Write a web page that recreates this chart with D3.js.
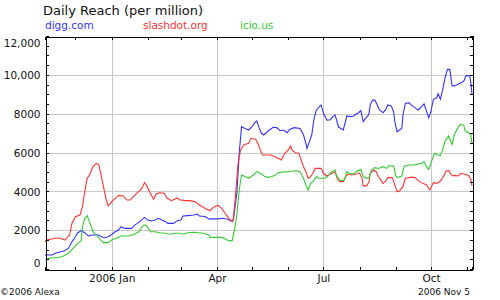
<!DOCTYPE html>
<html>
<head>
<meta charset="utf-8">
<script src="https://cdn.jsdelivr.net/npm/d3@7"></script>
<style>
  body { margin: 0; background: #fff; }
  svg { display: block; font-family: "DejaVu Sans", Verdana, sans-serif; }
  .axis path, .axis line { stroke: #000; shape-rendering: crispEdges; }
  .grid line { stroke: #c8c8c8; shape-rendering: crispEdges; }
</style>
</head>
<body>
<svg></svg>
<script>
// daily reach per million
const digg = [
  ["2005-11-05", 720], ["2005-11-11", 720], ["2005-11-15", 840], ["2005-11-21", 930],
  ["2005-11-25", 1060], ["2005-11-28", 1400], ["2005-12-01", 1660], ["2005-12-03", 1870],
  ["2005-12-06", 1970], ["2005-12-09", 1870], ["2005-12-12", 1700], ["2005-12-15", 1750],
  ["2005-12-21", 1750], ["2005-12-23", 1660], ["2005-12-26", 1610], ["2005-12-29", 1660],
  ["2006-01-01", 1780], ["2006-01-04", 1920], ["2006-01-07", 2010], ["2006-01-09", 2180],
  ["2006-01-12", 2090], ["2006-01-18", 2090], ["2006-01-21", 2270], ["2006-01-25", 2440],
  ["2006-01-29", 2660], ["2006-02-01", 2520], ["2006-02-04", 2470], ["2006-02-07", 2520],
  ["2006-02-10", 2610], ["2006-02-13", 2520], ["2006-02-16", 2440], ["2006-02-18", 2350],
  ["2006-02-23", 2350], ["2006-02-26", 2490], ["2006-03-01", 2520], ["2006-03-03", 2730],
  ["2006-03-07", 2750], ["2006-03-12", 2780], ["2006-03-15", 2830], ["2006-03-17", 2730],
  ["2006-03-22", 2700], ["2006-03-25", 2580], ["2006-03-29", 2580], ["2006-04-02", 2580],
  ["2006-04-06", 2610], ["2006-04-10", 2560], ["2006-04-14", 2440], ["2006-04-15", 2520],
  ["2006-04-18", 3900], ["2006-04-20", 5960], ["2006-04-22", 7330], ["2006-04-25", 7240],
  ["2006-04-28", 7160], ["2006-05-01", 7330], ["2006-05-04", 7590], ["2006-05-05", 7630],
  ["2006-05-07", 7280], ["2006-05-09", 6990], ["2006-05-11", 6900], ["2006-05-15", 7120],
  ["2006-05-19", 7300], ["2006-05-22", 7280], ["2006-05-25", 7120], ["2006-05-28", 7160],
  ["2006-05-31", 7020], ["2006-06-02", 7190], ["2006-06-06", 7280], ["2006-06-11", 7240],
  ["2006-06-14", 6900], ["2006-06-16", 6470], ["2006-06-17", 6210], ["2006-06-19", 6560],
  ["2006-06-21", 6900], ["2006-06-23", 7760], ["2006-06-25", 8190], ["2006-06-27", 8330],
  ["2006-06-29", 8450], ["2006-07-01", 8020], ["2006-07-04", 7670], ["2006-07-07", 7690],
  ["2006-07-09", 7850], ["2006-07-11", 7930], ["2006-07-14", 7300], ["2006-07-16", 7240],
  ["2006-07-18", 7160], ["2006-07-21", 7880], ["2006-07-24", 7850], ["2006-07-27", 7880],
  ["2006-07-29", 7980], ["2006-07-31", 8050], ["2006-08-02", 8160], ["2006-08-04", 7590],
  ["2006-08-06", 7760], ["2006-08-08", 7880], ["2006-08-09", 8020], ["2006-08-10", 8450],
  ["2006-08-12", 8700], ["2006-08-14", 8700], ["2006-08-16", 8450], ["2006-08-18", 8190],
  ["2006-08-21", 8050], ["2006-08-23", 8190], ["2006-08-25", 8450], ["2006-08-28", 8400],
  ["2006-08-30", 8100], ["2006-08-31", 7590], ["2006-09-02", 7070], ["2006-09-04", 7160],
  ["2006-09-06", 7240], ["2006-09-07", 7930], ["2006-09-09", 8530], ["2006-09-12", 8570],
  ["2006-09-14", 8450], ["2006-09-18", 8270], ["2006-09-20", 8190], ["2006-09-23", 8360],
  ["2006-09-25", 8500], ["2006-09-27", 8140], ["2006-09-29", 7790], ["2006-10-01", 8140],
  ["2006-10-03", 8740], ["2006-10-06", 8820], ["2006-10-07", 9030], ["2006-10-09", 8740],
  ["2006-10-11", 9250], ["2006-10-13", 9850], ["2006-10-15", 10280], ["2006-10-17", 10280],
  ["2006-10-19", 9430], ["2006-10-21", 9430], ["2006-10-24", 9510], ["2006-10-27", 9600],
  ["2006-10-29", 9680], ["2006-10-31", 9970], ["2006-11-03", 9940], ["2006-11-04", 9600],
  ["2006-11-05", 9000]
];

const slashdot = [
  ["2005-11-05", 1410], ["2005-11-06", 1490], ["2005-11-14", 1580], ["2005-11-18", 1580],
  ["2005-11-22", 1490], ["2005-11-26", 1750], ["2005-11-28", 2350], ["2005-12-01", 2690],
  ["2005-12-05", 2780], ["2005-12-07", 3210], ["2005-12-09", 3980], ["2005-12-11", 4670],
  ["2005-12-13", 4840], ["2005-12-16", 5270], ["2005-12-19", 5440], ["2005-12-21", 5360],
  ["2005-12-22", 5100], ["2005-12-25", 4240], ["2005-12-27", 3640], ["2005-12-29", 3250],
  ["2006-01-01", 3470], ["2006-01-04", 3640], ["2006-01-07", 3790], ["2006-01-11", 3760],
  ["2006-01-14", 3550], ["2006-01-17", 3550], ["2006-01-19", 3700], ["2006-01-24", 3980],
  ["2006-01-27", 4160], ["2006-01-29", 4450], ["2006-01-31", 4280], ["2006-02-03", 3900],
  ["2006-02-06", 3590], ["2006-02-08", 3860], ["2006-02-11", 3930], ["2006-02-15", 3900],
  ["2006-02-17", 3670], ["2006-02-21", 3520], ["2006-02-26", 3660], ["2006-02-28", 3570],
  ["2006-03-05", 3520], ["2006-03-09", 3520], ["2006-03-13", 3470], ["2006-03-17", 3300],
  ["2006-03-22", 3120], ["2006-03-26", 3000], ["2006-03-29", 3180], ["2006-04-02", 3280],
  ["2006-04-05", 3120], ["2006-04-08", 2870], ["2006-04-11", 2610], ["2006-04-14", 2440],
  ["2006-04-15", 2600], ["2006-04-17", 3900], ["2006-04-19", 5400], ["2006-04-21", 6100],
  ["2006-04-24", 6400], ["2006-04-28", 6470], ["2006-04-30", 6730], ["2006-05-04", 6680],
  ["2006-05-06", 6470], ["2006-05-08", 6130], ["2006-05-10", 5870], ["2006-05-14", 5870],
  ["2006-05-17", 5870], ["2006-05-20", 5790], ["2006-05-23", 5700], ["2006-05-26", 5610],
  ["2006-05-29", 5960], ["2006-06-01", 6130], ["2006-06-03", 6340], ["2006-06-04", 6130],
  ["2006-06-07", 5990], ["2006-06-10", 5960], ["2006-06-12", 5610], ["2006-06-14", 5270],
  ["2006-06-16", 5010], ["2006-06-18", 4670], ["2006-06-20", 4760], ["2006-06-22", 4930],
  ["2006-06-24", 5180], ["2006-06-29", 5180], ["2006-07-01", 4930], ["2006-07-04", 4790],
  ["2006-07-07", 4890], ["2006-07-11", 5000], ["2006-07-13", 4620], ["2006-07-15", 4500],
  ["2006-07-18", 4500], ["2006-07-20", 4760], ["2006-07-22", 4890], ["2006-07-25", 4840],
  ["2006-07-29", 4890], ["2006-08-01", 4930], ["2006-08-03", 4670], ["2006-08-04", 4280],
  ["2006-08-07", 4280], ["2006-08-09", 4500], ["2006-08-10", 4930], ["2006-08-13", 5100],
  ["2006-08-15", 5010], ["2006-08-17", 4760], ["2006-08-21", 4410], ["2006-08-23", 4500],
  ["2006-08-25", 4720], ["2006-08-29", 4700], ["2006-08-31", 4330], ["2006-09-02", 3980],
  ["2006-09-04", 4020], ["2006-09-07", 4240], ["2006-09-09", 4670], ["2006-09-13", 4720],
  ["2006-09-17", 4720], ["2006-09-21", 4500], ["2006-09-24", 4410], ["2006-09-27", 4330],
  ["2006-09-30", 4070], ["2006-10-03", 4450], ["2006-10-06", 4410], ["2006-10-09", 4530],
  ["2006-10-11", 4700], ["2006-10-14", 5050], ["2006-10-16", 5080], ["2006-10-19", 4790],
  ["2006-10-21", 4820], ["2006-10-24", 4790], ["2006-10-27", 4930], ["2006-10-30", 4880],
  ["2006-11-02", 4820], ["2006-11-04", 4620], ["2006-11-05", 4280]
];

const delicious = [
  ["2005-11-05", 500], ["2005-11-11", 580], ["2005-11-16", 580], ["2005-11-21", 670],
  ["2005-11-25", 810], ["2005-11-29", 1060], ["2005-12-03", 1320], ["2005-12-06", 1460],
  ["2005-12-07", 2180], ["2005-12-09", 2610], ["2005-12-11", 2750], ["2005-12-13", 2440],
  ["2005-12-16", 1920], ["2005-12-19", 1750], ["2005-12-22", 1530], ["2005-12-25", 1360],
  ["2005-12-29", 1360], ["2006-01-01", 1490], ["2006-01-05", 1580], ["2006-01-09", 1700],
  ["2006-01-15", 1700], ["2006-01-19", 1750], ["2006-01-24", 1920], ["2006-01-27", 2180],
  ["2006-01-29", 2270], ["2006-01-31", 2220], ["2006-02-03", 1920], ["2006-02-07", 1920],
  ["2006-02-11", 1870], ["2006-02-16", 1840], ["2006-02-20", 1790], ["2006-02-24", 1840],
  ["2006-02-28", 1840], ["2006-03-03", 1790], ["2006-03-07", 1870], ["2006-03-12", 1890],
  ["2006-03-16", 1870], ["2006-03-20", 1840], ["2006-03-25", 1750], ["2006-03-26", 1630],
  ["2006-04-01", 1630], ["2006-04-05", 1630], ["2006-04-08", 1550], ["2006-04-11", 1460],
  ["2006-04-14", 1460], ["2006-04-16", 2010], ["2006-04-18", 2780], ["2006-04-20", 4070],
  ["2006-04-22", 4840], ["2006-04-25", 4760], ["2006-04-28", 4670], ["2006-05-02", 4840],
  ["2006-05-05", 5010], ["2006-05-07", 4960], ["2006-05-09", 4890], ["2006-05-12", 4760],
  ["2006-05-15", 4720], ["2006-05-18", 4760], ["2006-05-21", 4840], ["2006-05-23", 4960],
  ["2006-05-28", 5000], ["2006-06-01", 5010], ["2006-06-05", 5050], ["2006-06-08", 5060],
  ["2006-06-11", 5010], ["2006-06-14", 4670], ["2006-06-16", 4330], ["2006-06-18", 4070],
  ["2006-06-20", 4410], ["2006-06-22", 4500], ["2006-06-25", 4760], ["2006-06-27", 4670],
  ["2006-07-02", 4670], ["2006-07-05", 4790], ["2006-07-08", 5010], ["2006-07-11", 5100],
  ["2006-07-12", 4840], ["2006-07-15", 4580], ["2006-07-17", 4550], ["2006-07-19", 4580],
  ["2006-07-21", 5010], ["2006-07-23", 4930], ["2006-07-27", 4890], ["2006-07-29", 5010],
  ["2006-08-02", 5130], ["2006-08-04", 4760], ["2006-08-07", 4670], ["2006-08-09", 4700],
  ["2006-08-11", 5100], ["2006-08-14", 5220], ["2006-08-17", 5180], ["2006-08-21", 5270],
  ["2006-08-24", 5180], ["2006-08-26", 5320], ["2006-08-30", 5300], ["2006-09-01", 4760],
  ["2006-09-03", 4720], ["2006-09-06", 4790], ["2006-09-08", 5300], ["2006-09-12", 5360],
  ["2006-09-16", 5360], ["2006-09-20", 5410], ["2006-09-23", 5440], ["2006-09-25", 5530],
  ["2006-09-27", 5270], ["2006-09-29", 5130], ["2006-10-01", 5480], ["2006-10-04", 5960],
  ["2006-10-07", 5870], ["2006-10-09", 5840], ["2006-10-11", 6160], ["2006-10-13", 6590],
  ["2006-10-16", 6850], ["2006-10-19", 6420], ["2006-10-21", 6940], ["2006-10-24", 7280],
  ["2006-10-26", 7450], ["2006-10-29", 7400], ["2006-10-30", 7120], ["2006-11-02", 7020],
  ["2006-11-04", 6940], ["2006-11-05", 6420]
];

const seriesNames = ["digg.com", "slashdot.org", "icio.us"];
const seriesColors = ["#3333ff", "#ff3333", "#33cc33"];
const yTicks = d3.range(0, 12001, 500);
const yLabels = [0, 2000, 4000, 6000, 8000, 10000, 12000];
const xLabels = { "2006-01-01": "2006 Jan", "2006-04-01": "Apr", "2006-07-01": "Jul", "2006-10-01": "Oct" };

const width = 500;
const height = 300;
const margin = { top: 36, right: 28, bottom: 31, left: 45 };
const parse = d3.timeParse("%Y-%m-%d");
const key = d3.timeFormat("%Y-%m-%d");

const svg = d3.select("svg").attr("width", width).attr("height", height);

const x = d3.scaleTime()
    .domain([parse("2005-11-05"), parse("2006-11-05")])
    .range([margin.left, width - margin.right]);
const y = d3.scaleLinear()
    .domain([0, 12000])
    .range([height - margin.bottom, margin.top]);

const months = d3.timeMonth.range(parse("2005-11-06"), parse("2006-11-05"));
const quarters = months.filter(d => xLabels[key(d)]);

// grid
const grid = svg.append("g").attr("class", "grid");
grid.selectAll(".gx").data(quarters).enter().append("line")
    .attr("x1", d => Math.round(x(d)) + 0.5).attr("x2", d => Math.round(x(d)) + 0.5)
    .attr("y1", y(12000)).attr("y2", y(0));
grid.selectAll(".gy").data(yLabels.slice(1, -1)).enter().append("line")
    .attr("x1", x.range()[0]).attr("x2", x.range()[1])
    .attr("y1", d => Math.round(y(d)) + 0.5).attr("y2", d => Math.round(y(d)) + 0.5);

// lines
const line = d3.line()
    .x(d => x(parse(d[0])))
    .y(d => y(d[1]));
[digg, slashdot, delicious].forEach((s, i) => {
    svg.append("path")
        .datum(s)
        .attr("fill", "none")
        .attr("stroke", seriesColors[i])
        .attr("stroke-width", 1.1)
        .attr("d", line);
});

// axes
const fmtY = d => !yLabels.includes(d) ? "" : d >= 10000 ? d3.format(",")(d) : String(d);
const left = svg.append("g").attr("class", "axis")
    .attr("transform", `translate(${margin.left + 0.5},0)`)
    .call(d3.axisLeft(y).tickValues(yTicks).tickSize(-3).tickPadding(5).tickFormat(fmtY));
left.selectAll("text")
    .attr("font-size", "10.5px").attr("font-family", "DejaVu Sans").attr("fill", "#111")
    .attr("dy", d => d === 12000 ? "1.0em" : d === 0 ? "-0.25em" : "0.35em");

svg.append("g").attr("class", "axis")
    .attr("transform", `translate(${width - margin.right + 0.5},0)`)
    .call(d3.axisRight(y).tickValues(yTicks).tickSize(-3).tickFormat(""));

const bottom = svg.append("g").attr("class", "axis")
    .attr("transform", `translate(0,${height - margin.bottom + 0.5})`)
    .call(d3.axisBottom(x).tickValues(months).tickSize(-3).tickPadding(5)
        .tickFormat(d => xLabels[key(d)] || ""));
bottom.selectAll("text")
    .attr("font-size", "10.5px").attr("font-family", "DejaVu Sans").attr("fill", "#111");

svg.append("g").attr("class", "axis")
    .attr("transform", `translate(0,${margin.top + 0.5})`)
    .call(d3.axisTop(x).tickValues(months).tickSize(-3).tickFormat(""));

// title and legend
svg.append("text")
    .attr("x", 43).attr("y", 15)
    .attr("font-size", "13px").attr("fill", "#111")
    .text("Daily Reach (per million)");

const legendX = [45, 143, 240];
svg.selectAll(".legend").data(seriesNames).enter().append("text")
    .attr("x", (d, i) => legendX[i]).attr("y", 29)
    .attr("font-size", "10.5px")
    .attr("fill", (d, i) => seriesColors[i])
    .text(d => d);

// footer
svg.append("text")
    .attr("x", 0).attr("y", 295)
    .attr("font-size", "9px").attr("fill", "#111")
    .text("\u00a92006 Alexa");
svg.append("text")
    .attr("x", 470).attr("y", 295)
    .attr("text-anchor", "end")
    .attr("font-size", "9px").attr("fill", "#111")
    .text("2006 Nov 5");
</script>
</body>
</html>
